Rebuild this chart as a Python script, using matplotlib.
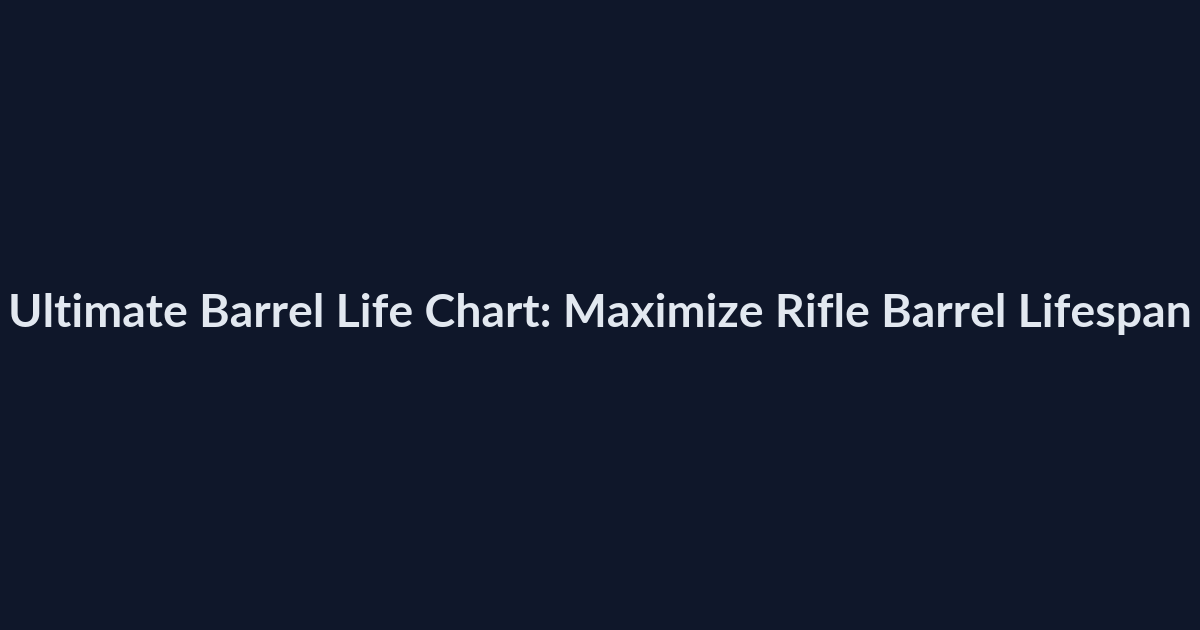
import matplotlib
matplotlib.use('Agg')
import matplotlib.pyplot as plt

title = 'Ultimate Barrel Life Chart: Maximize Rifle Barrel Lifespan'
bg_color = '#0f172a'
text_color = '#e2e8f0'

fig = plt.figure(figsize=(12, 6.3), dpi=100)
fig.patch.set_facecolor(bg_color)

txt = fig.text(0.5, 1 - 314 / 630, title, ha='center', va='center',
               color=text_color, fontsize=30, fontweight='bold', family=['Lato', 'DejaVu Sans'])

# scale the font so the title spans about the same width as the reference
fig.canvas.draw()
width = txt.get_window_extent().width
txt.set_fontsize(30 * 1182 / width)

fig.savefig('out.png', dpi=100, facecolor=bg_color)
